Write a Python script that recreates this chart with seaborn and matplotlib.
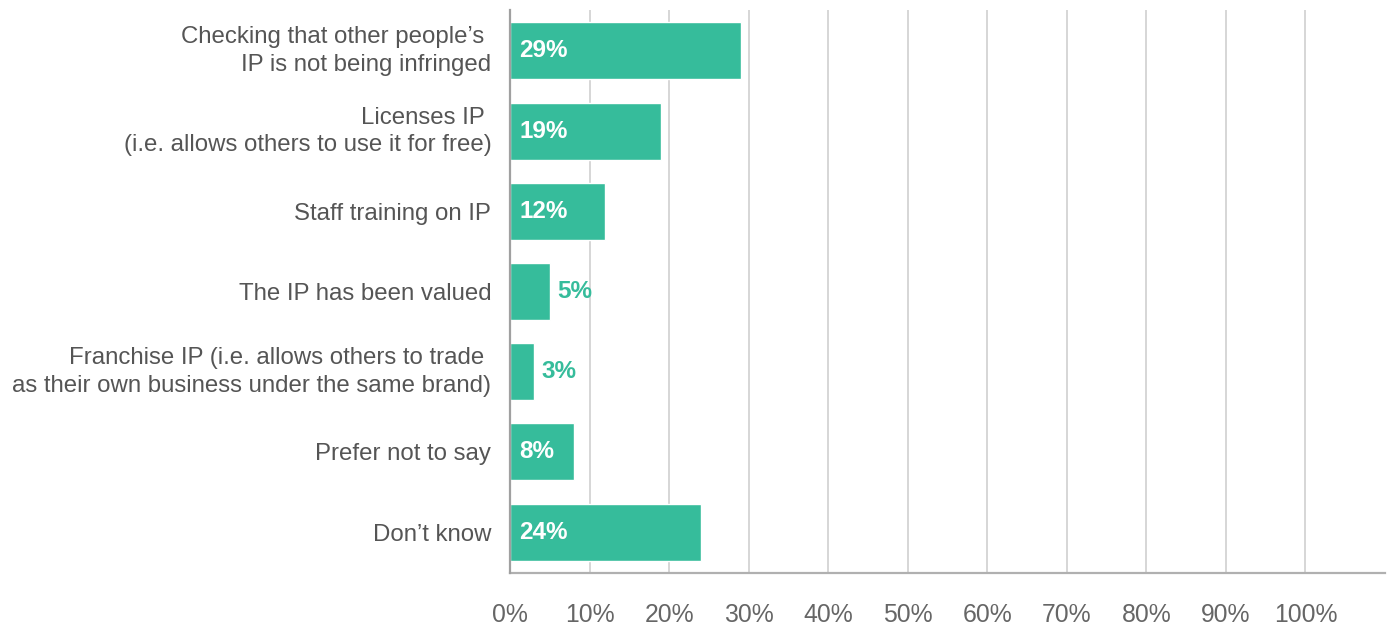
import matplotlib
matplotlib.use("Agg")
import matplotlib.pyplot as plt
import matplotlib.transforms as mtransforms
import seaborn as sns
import pandas as pd

categories = [
    "Checking that other people\u2019s \nIP is not being infringed",
    "Licenses IP \n(i.e. allows others to use it for free)",
    "Staff training on IP",
    "The IP has been valued",
    "Franchise IP (i.e. allows others to trade \nas their own business under the same brand)",
    "Prefer not to say",
    "Don\u2019t know",
]
values = [29, 19, 12, 5, 3, 8, 24]
x_ticks = [0, 10, 20, 30, 40, 50, 60, 70, 80, 90, 100]

bar_color = "#36BC9B"

sns.set_theme(style="white")
plt.rcParams["font.family"] = ["Liberation Sans", "DejaVu Sans"]

df = pd.DataFrame({"category": categories, "value": values})

fig = plt.figure(figsize=(13.9, 6.26), dpi=100)
ax = fig.add_axes([510 / 1390, 1 - 573 / 626, 875 / 1390, 563 / 626])

sns.barplot(data=df, x="value", y="category", orient="h", color=bar_color,
            saturation=1, width=0.71, ax=ax, zorder=3)

ax.set_xlim(0, 110)
ax.set_ylim(6.51, -0.51)
ax.set_xticks(x_ticks)
ax.set_xticklabels([f"{t}%" for t in x_ticks], fontsize=17.8, color="#666666")
ax.tick_params(axis="x", length=0, pad=21.5)
ax.tick_params(axis="y", length=0, pad=13.5)

# nudge two-line category labels up a little so they sit centred on the bar
lift = mtransforms.ScaledTranslation(0, 5 / 100, fig.dpi_scale_trans)
for lbl in ax.get_yticklabels():
    lbl.set_fontsize(17.3)
    lbl.set_color("#555555")
    lbl.set_linespacing(1.33)
    if "\n" in lbl.get_text():
        lbl.set_transform(lbl.get_transform() + lift)
ax.set_xlabel("")
ax.set_ylabel("")

ax.grid(axis="x", color="#cfcfcf", linewidth=1.2, zorder=0)
ax.grid(axis="y", visible=False)
for side in ["top", "right"]:
    ax.spines[side].set_visible(False)
ax.spines["left"].set_color("#a0a0a0")
ax.spines["left"].set_linewidth(1.6)
ax.spines["bottom"].set_color("#b0b0b0")
ax.spines["bottom"].set_linewidth(1.6)
ax.spines["left"].set_zorder(4)

for i, v in enumerate(values):
    if v >= 8:
        ax.text(1.2, i, f"{v}%", va="center", ha="left", color="white",
                fontsize=17.5, fontweight="bold", zorder=5)
    else:
        ax.text(v + 0.9, i, f"{v}%", va="center", ha="left", color=bar_color,
                fontsize=17.5, fontweight="bold", zorder=5)

fig.savefig("out.png", dpi=100)
